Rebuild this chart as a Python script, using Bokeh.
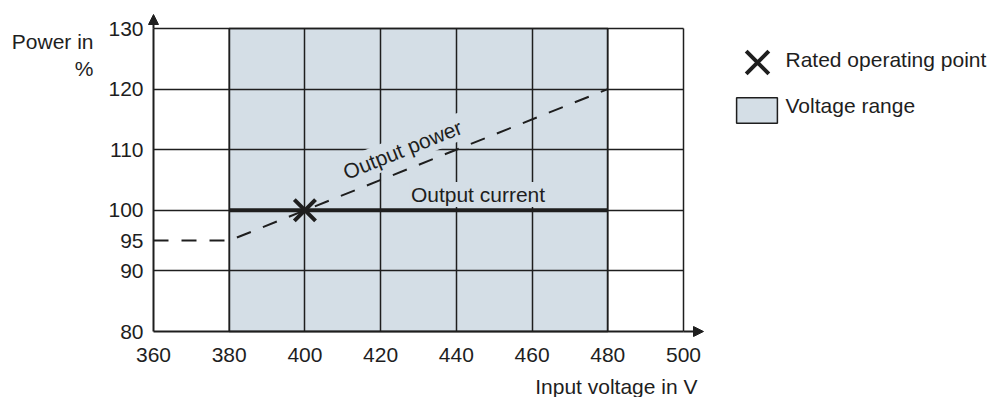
import math
from bokeh.plotting import figure
from bokeh.models import (Range1d, FixedTicker, Label, Arrow, NormalHead,
                          Legend, LegendItem)
from bokeh.embed import file_html
from bokeh.resources import INLINE

# ---------------- data ----------------
x_ticks = [360, 380, 400, 420, 440, 460, 480, 500]
y_ticks = [80, 90, 95, 100, 110, 120, 130]
x_grid = [380, 400, 420, 440, 460, 480, 500]
y_grid = [90, 100, 110, 120, 130]

range_left = [380]
range_right = [480]
range_bottom = [80]
range_top = [130]

power_x = [360, 380, 480]
power_y = [95, 95, 120]

current_x = [380, 480]
current_y = [100, 100]

rated_x = [400]
rated_y = [100]

legend_labels = ["Rated operating point", "Voltage range"]

# ---------------- style / layout ----------------
FONT = "Liberation Sans"
FS = "21px"
DARK = "#1e1e1e"
SHADE = "#d4dee6"

W, H = 993, 397
X0, X1, Y0, Y1 = 360, 500, 80, 130          # chart box in data units
PX0, PX1, PY1, PY0 = 153, 683, 28, 331      # chart box in pixels
sx = (PX1 - PX0) / (X1 - X0)
sy = (PY0 - PY1) / (Y1 - Y0)
xr = Range1d(X0 - PX0 / sx, X0 + (W - PX0) / sx)
yr = Range1d(Y0 - (H - PY0) / sy, Y1 + PY1 / sy)

def dx(px):  # pixel -> data (x)
    return X0 + (px - PX0) / sx

def dy(py):  # pixel -> data (y)
    return Y0 + (PY0 - py) / sy

p = figure(width=W, height=H, x_range=xr, y_range=yr,
           output_backend="svg", toolbar_location=None,
           min_border_left=0, min_border_right=0, min_border_top=0,
           min_border_bottom=0)
p.outline_line_color = None
p.background_fill_color = "white"
p.border_fill_color = "white"

# voltage range
shade = p.quad(left=range_left, right=range_right, bottom=range_bottom, top=range_top,
               fill_color=SHADE, line_color=DARK, line_width=1.5, level="image")

# axes
p.xaxis.fixed_location = Y0
p.yaxis.fixed_location = X0
p.xaxis.bounds = (X0, X1)
p.yaxis.bounds = (Y0, Y1)
for ax in (p.xaxis[0], p.yaxis[0]):
    ax.axis_line_color = DARK
    ax.axis_line_width = 2
    ax.major_tick_line_color = None
    ax.minor_tick_line_color = None
    ax.major_label_text_font = FONT
    ax.major_label_text_font_size = FS
    ax.major_label_text_color = DARK
p.xaxis.ticker = FixedTicker(ticks=x_ticks)
p.yaxis.ticker = FixedTicker(ticks=y_ticks)
p.xaxis.major_label_standoff = 10
p.yaxis.major_label_standoff = 4

p.xgrid.ticker = FixedTicker(ticks=x_grid)
p.ygrid.ticker = FixedTicker(ticks=y_grid)
p.xgrid.cross_bounds = (Y0, Y1)
p.ygrid.cross_bounds = (X0, X1)
for g in (p.xgrid[0], p.ygrid[0]):
    g.grid_line_color = DARK
    g.grid_line_width = 1.5

# axis arrows
p.add_layout(Arrow(x_start=X1, y_start=Y0, x_end=dx(703), y_end=Y0,
                   line_color=DARK, line_width=2,
                   end=NormalHead(size=10, fill_color=DARK, line_color=DARK, line_width=1)))
p.add_layout(Arrow(x_start=X0, y_start=Y1, x_end=X0, y_end=dy(14),
                   line_color=DARK, line_width=2,
                   end=NormalHead(size=10, fill_color=DARK, line_color=DARK, line_width=1)))

# series
p.line(power_x, power_y, line_color=DARK, line_width=2, line_dash="15 13")
p.line(current_x, current_y, line_color=DARK, line_width=4)
rated = p.scatter(rated_x, rated_y, marker="x", size=30, line_color=DARK, line_width=4)

# slope angle of the output power line in screen space
ang = math.atan2((power_y[2] - power_y[1]) * sy, (power_x[2] - power_x[1]) * sx)

def lab(**kw):
    kw.setdefault("text_font", FONT)
    kw.setdefault("text_font_size", FS)
    kw.setdefault("text_color", DARK)
    kw.setdefault("text_baseline", "middle")
    p.add_layout(Label(**kw))

lab(x=dx(402), y=dy(149), text="Output power", angle=ang, text_align="center",
    background_fill_color=SHADE, padding=2)
lab(x=dx(477.5), y=dy(194), text="Output current", text_align="center",
    background_fill_color=SHADE, padding=1)

# axis titles
lab(x=dx(93), y=dy(41), text="Power in", text_align="right")
lab(x=dx(93), y=dy(67.5), text="%", text_align="right")
lab(x=dx(697), y=dy(385.5), text="Input voltage in V", text_align="right")

# legend keys (location in pixels from the bottom-left of the frame)
def make_legend(renderer, left, bottom, gw, gh):
    lg = Legend(items=[LegendItem(label=" ", renderers=[renderer])],
                location=(left, H - bottom), glyph_width=gw, glyph_height=gh,
                label_standoff=0, padding=0, margin=0, spacing=0,
                border_line_color=None, background_fill_alpha=0,
                label_text_font=FONT, label_text_font_size=FS,
                label_text_color=DARK, label_height=20)
    p.add_layout(lg)

make_legend(rated, 717, 102, 80, 80)
make_legend(shade, 731, 126, 51, 32)

# legend texts
lab(x=dx(785), y=dy(58.5), text=legend_labels[0], text_align="left")
lab(x=dx(785), y=dy(105), text=legend_labels[1], text_align="left")

open("out.html", "w").write(file_html(p, INLINE))
